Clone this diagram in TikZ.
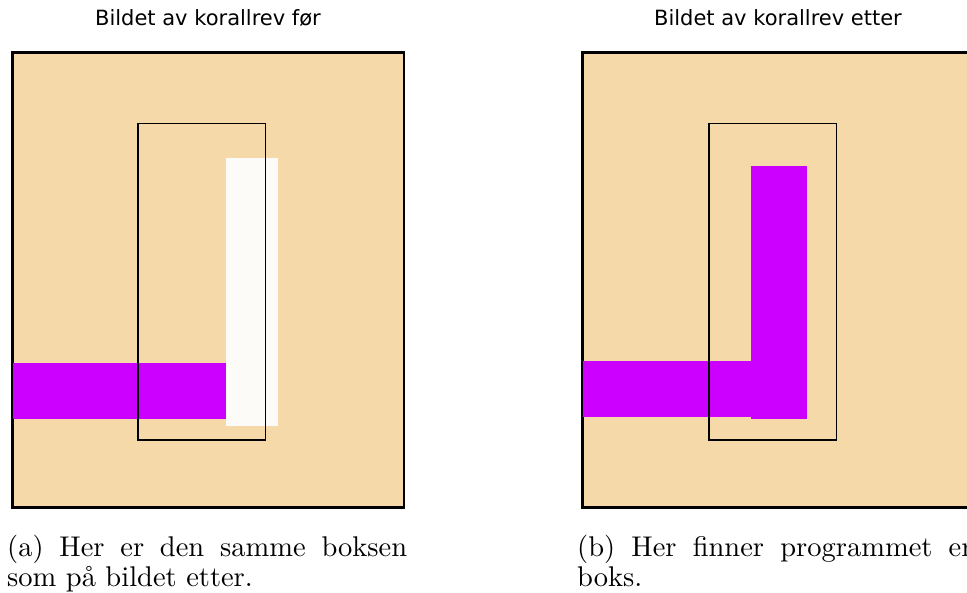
\documentclass[tikz,border=0pt]{standalone}
\usepackage{fontspec}
\newfontfamily\tittelfont{DejaVu Sans}
\newfontfamily\tekstfont{lmroman10-regular}[Extension=.otf]
\definecolor{sand}{RGB}{245,217,169}
\definecolor{koral}{RGB}{204,0,255}
\definecolor{bleik}{RGB}{253,251,248}

\begin{document}
\begin{tikzpicture}[x=1pt,y=1pt,
  tittel/.style={anchor=base,inner sep=0pt,font=\tittelfont\fontsize{21}{25}\selectfont},
  tekst/.style={anchor=north west,inner sep=0pt,text width=400pt,align=justify,font=\tekstfont\fontsize{28.5}{29.3}\selectfont},
  ramme/.style={fill=sand,draw=black,line width=2.3pt},
  boks/.style={draw=black,line width=1.9pt}]
\useasboundingbox (0,0) rectangle (967,593);
\begin{scope}
\clip (0,0) rectangle (967,593);
% venstre bilde: foer
\draw[ramme] (12.5,85.5) rectangle (404,540.5);
\fill[koral] (12.5,174) rectangle (227,230);
\fill[bleik] (226,167) rectangle (278,435);
\draw[boks] (138,153) rectangle (265.5,469.5);
% hoeyre bilde: etter
\draw[ramme] (582.5,85.5) rectangle (974,540.5);
\fill[koral] (582.5,176) rectangle (751,232);
\fill[koral] (751,174) rectangle (807,427);
\draw[boks] (709,153) rectangle (836.5,469.5);
\end{scope}
\node[tittel] (tittelA) at (208,567) {Bildet av korallrev før};
\node[tittel] (tittelB) at (778,567) {Bildet av korallrev etter};
\node[tekst] (tekstA) at (7,57.7) {(a) Her er den samme boksen som på bildet etter.};
\node[tekst] (tekstB) at (577,57.7) {(b) Her finner programmet en boks.};
\end{tikzpicture}
\end{document}
